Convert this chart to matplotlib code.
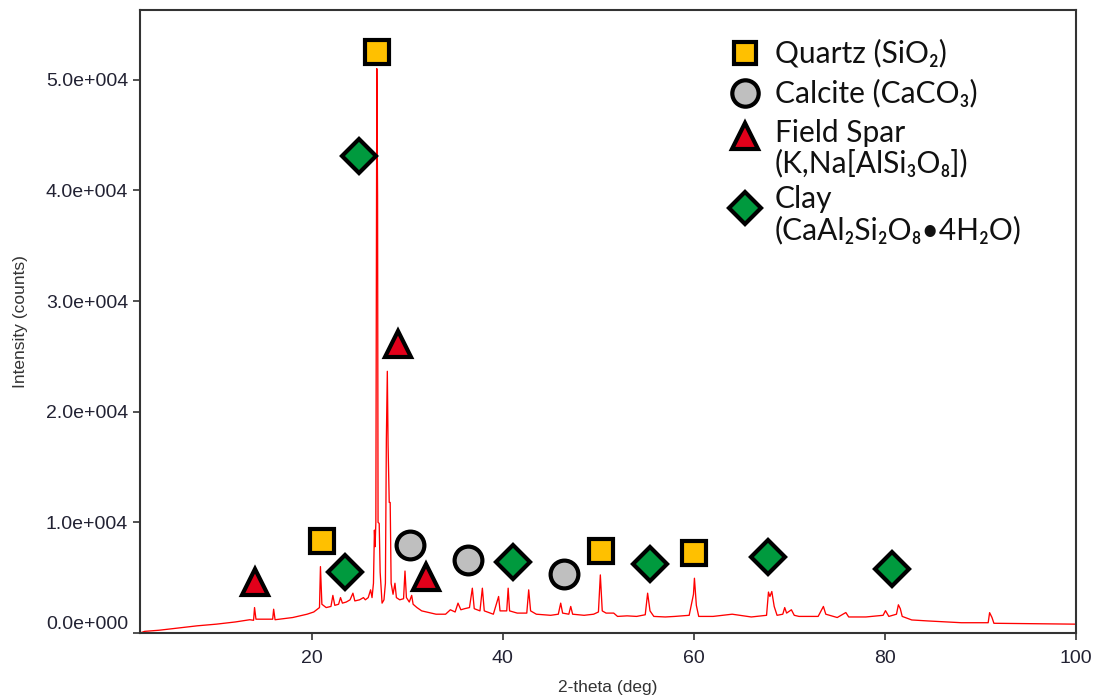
import numpy as np
import matplotlib
matplotlib.use('Agg')
import matplotlib.pyplot as plt
from matplotlib.ticker import FuncFormatter

# XRD pattern (2-theta in deg, intensity in counts)
two_theta = [2.0, 2.5, 4.0, 6.0, 8.0, 10.0, 12.0, 13.5, 13.9, 14.0, 14.15, 15.9, 16.0, 16.15,
             18.0, 19.5, 20.2, 20.8, 20.9, 21.05, 21.5, 22.0, 22.2, 22.4, 22.8, 23.0, 23.2,
             23.6, 24.0, 24.3, 24.5, 25.0, 25.4, 25.6, 25.9, 26.15, 26.3, 26.45, 26.55, 26.62,
             26.7, 26.8, 26.88, 26.93, 27.05, 27.15, 27.35, 27.55, 27.7, 27.8, 27.9, 27.98,
             28.1, 28.2, 28.3, 28.5, 28.7, 28.85, 29.2, 29.6, 29.75, 29.9, 30.2, 30.45, 30.6,
             31.0, 31.5, 32.0, 32.5, 33.0, 34.0, 34.5, 35.0, 35.3, 35.6, 36.0, 36.5, 36.8,
             37.0, 37.6, 37.85, 38.05, 39.0, 39.55, 39.7, 40.4, 40.55, 40.7, 41.5, 42.5, 42.7,
             42.9, 43.5, 45.0, 45.8, 46.05, 46.25, 46.9, 47.1, 47.3, 48.5, 49.5, 50.0, 50.2,
             50.4, 50.8, 51.6, 52.0, 53.0, 54.0, 54.9, 55.15, 55.4, 55.8, 57.0, 58.0, 59.5,
             59.95, 60.05, 60.25, 60.5, 62.0, 64.0, 66.0, 67.6, 67.8, 67.95, 68.15, 68.4, 68.7,
             69.3, 69.5, 69.7, 70.2, 70.5, 71.0, 73.0, 73.55, 73.8, 75.0, 75.9, 76.2, 78.0,
             79.8, 80.05, 80.4, 81.2, 81.4, 81.6, 81.8, 82.8, 84.5, 88.0, 90.8, 90.95, 91.2,
             91.4, 95.0, 100.0]
counts = [0, 150, 250, 450, 650, 800, 1000, 1200, 1150, 2300, 1250, 1250, 2150, 1200,
          1400, 1700, 1900, 2300, 6000, 2600, 2300, 2400, 3400, 2500, 2600, 3200, 2700,
          2800, 3000, 3600, 2900, 3000, 3200, 3000, 3200, 3900, 3200, 4500, 9300, 7800,
          10000, 51000, 39500, 10000, 9900, 5500, 2700, 3000, 4500, 17500, 23650, 17000,
          11800, 11800, 4500, 3500, 4500, 3200, 3000, 3100, 5600, 3200, 2800, 3400, 2600,
          2300, 2000, 1900, 1800, 1700, 1700, 2100, 1900, 2700, 2100, 2200, 2300, 4050,
          2200, 2000, 4050, 2000, 1700, 3300, 2000, 2000, 4050, 2000, 1800, 1800, 3900,
          2000, 1700, 1600, 1700, 2700, 1800, 1700, 2400, 1700, 1600, 1700, 1900, 5250,
          2000, 1800, 1800, 1500, 1550, 1500, 1650, 3600, 2000, 1500, 1450, 1500, 1600,
          3500, 4950, 2500, 1500, 1500, 1700, 1450, 1600, 3700, 3300, 3750, 2400, 1600,
          1700, 2300, 1800, 2100, 1600, 1500, 1500, 2400, 1700, 1400, 1850, 1450, 1450,
          1600, 2020, 1500, 1700, 2550, 2200, 1500, 1180, 1090, 930, 930, 1840, 1400,
          880, 850, 800]

# phase markers
quartz_x = [26.87, 21.1, 50.3, 60.0]
quartz_y = [52500, 8300, 7400, 7200]
calcite_x = [30.3, 36.3, 46.4]
calcite_y = [7950, 6600, 5350]
spar_x = [14.1, 29.0, 31.9]
spar_y = [4600, 26100, 5050]
clay_x = [24.9, 23.5, 41.1, 55.4, 67.8, 80.7]
clay_y = [43100, 5500, 6400, 6250, 6900, 5800]

labels = ['Quartz (SiO\u2082)', 'Calcite (CaCO\u2083)', 'Field Spar\n(K,Na[AlSi\u2083O\u2088])',
          'Clay\n(CaAl\u2082Si\u2082O\u2088\u20224H\u2082O)']

fig = plt.figure(figsize=(10.93, 6.99), dpi=100)
ax = fig.add_axes([0.128, 0.0944, 0.8565, 0.8913])

ax.plot(two_theta, counts, color='#ff0000', lw=0.95, zorder=2)

styles = [('s', '#ffc000', 17), ('o', '#bfbfbf', 20), ('^', '#e2001a', 19), ('D', '#009a3e', 17)]
data = [(quartz_x, quartz_y), (calcite_x, calcite_y), (spar_x, spar_y), (clay_x, clay_y)]
for (m, c, ms), (xs, ys) in zip(styles, data):
    ax.plot(xs, ys, ls='none', marker=m, ms=ms, mfc=c, mec='black', mew=3, zorder=3)

# legend drawn by hand so the markers sit on the first text line
mk_y = [0.931, 0.867, 0.797, 0.682]
tx_y = [0.931, 0.867, 0.778, 0.671]
for (m, c, ms), ym, yt, lab in zip(styles, mk_y, tx_y, labels):
    ax.plot([0.646], [ym], transform=ax.transAxes, ls='none', marker=m, ms=ms * 0.95,
            mfc=c, mec='black', mew=3, clip_on=False)
    ax.text(0.678, yt, lab, transform=ax.transAxes, va='center', ha='left',
            fontsize=21.5, family=['Lato', 'DejaVu Sans'], linespacing=1.1,
            color='#111111')

ax.set_xlim(2, 100)
ax.set_ylim(0, 56300)
ax.set_xticks([20, 40, 60, 80, 100])
ax.set_yticks([0, 10000, 20000, 30000, 40000, 50000])


def sci3(v, pos):
    if v == 0:
        return '0.0e+000'
    e = int(np.floor(np.log10(abs(v))))
    return f'{v / 10 ** e:.1f}e{"+" if e >= 0 else "-"}{abs(e):03d}'


ax.yaxis.set_major_formatter(FuncFormatter(sci3))
ax.tick_params(direction='out', length=5, width=1.2, color='#333333',
               labelsize=14, labelcolor='#222233')
ax.tick_params(axis='x', pad=7.5)
for lab in ax.get_xticklabels() + ax.get_yticklabels():
    lab.set_family('Liberation Sans')
for s in ax.spines.values():
    s.set_color('#333333')
    s.set_linewidth(1.5)

ax.set_xlabel('2-theta (deg)', fontsize=12.5, family='Liberation Sans', color='#333333', labelpad=9)
ax.set_ylabel('Intensity (counts)', fontsize=12.5, family='Liberation Sans', color='#333333', labelpad=13)

fig.canvas.draw()
ax.get_yticklabels()[0].set_va('bottom')

fig.savefig('out.png', dpi=100)
